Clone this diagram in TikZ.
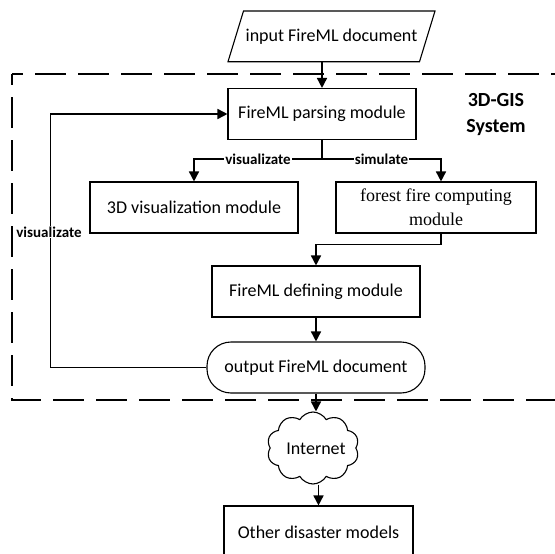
\documentclass[tikz,border=0pt]{standalone}
\usepackage{fontspec}
\setmainfont{Carlito}
\newfontfamily\timesfont{Liberation Serif}
\usetikzlibrary{arrows.meta,shapes.symbols,calc}

\tikzset{
  module/.style={draw=black, line width=1.1pt, minimum height=51pt, inner sep=0pt, font=\fontsize{18}{22}\selectfont},
  flow/.style={line width=1.6pt, -{Triangle[length=10pt,width=10pt]}},
  plain/.style={line width=1.6pt},
  edgelabel/.style={fill=white, inner sep=1pt, font=\bfseries\fontsize{15}{18}\selectfont},
  frame/.style={line width=2pt, dash pattern=on 31pt off 12pt, dash phase=20pt},
}

\begin{document}
\begin{tikzpicture}[x=1pt, y=-1pt]
\useasboundingbox (0,0) rectangle (555,554);

% input document (parallelogram)
\draw[line width=1.1pt] (243.5,11) -- (435,11) -- (419.5,61.7) -- (228,61.7) -- cycle;
\node[font=\fontsize{18}{22}\selectfont, minimum height=50.7pt, inner sep=0pt] (input) at (331.5,36.35) {input FireML document};

% 3D-GIS system boundary
\draw[frame] (12,74) -- (565,74);
\draw[frame] (12,74) -- (12,400) -- (565,400);
\node[font=\bfseries\fontsize{20}{26}\selectfont, align=center] (sys) at (496,115) {3D-GIS\\System};

% modules
\node[module, minimum width=188pt] (parse) at (322,114) {FireML parsing module};
\node[module, minimum width=208pt] (vis) at (194,207.5) {3D visualization module};
\node[module, minimum width=200pt, align=center, font=\timesfont\fontsize{18}{24}\selectfont] (forest) at (436,207.5) {forest fire computing\\module};
\node[module, minimum width=208pt] (def) at (316,291.5) {FireML defining module};
\node[module, minimum width=218pt, rounded corners=24pt] (out) at (316,367.5) {output FireML document};
\node[draw=black, line width=1.1pt, cloud, cloud puffs=10, cloud puff arc=120, minimum width=92pt, minimum height=72pt, inner sep=0pt] (cloud) at (313,448) {};
\node[font=\fontsize{18}{22}\selectfont] (net) at (316,449) {Internet};
\node[module, minimum width=189pt, minimum height=52pt] (other) at (318.5,532) {Other disaster models};

% connectors
\draw[flow] (parse.north |- input.south) -- (parse.north);
\draw[plain] (parse.south) -- ++(0,19) coordinate (br);
\draw[flow] (br) -| (vis.north) node[edgelabel, pos=0.25] (lvis) {visualizate};
\draw[flow] (br) -| ($(forest.north)+(5,0)$) node[edgelabel, pos=0.25] (lsim) {simulate};
\draw[flow] ($(forest.south)+(5,0)$) -- ++(0,11) -| (def.north);
\draw[flow] (def.south) -- (out.north);
\draw[flow] (out.south) -- (out.south |- cloud.north);
\draw[flow] (other.north |- cloud.south) -- (other.north);
\draw[flow] (out.west) -- ++(-156,0) |- (parse.west);
\node[edgelabel] (lback) at (49,232) {visualizate};
\end{tikzpicture}
\end{document}
